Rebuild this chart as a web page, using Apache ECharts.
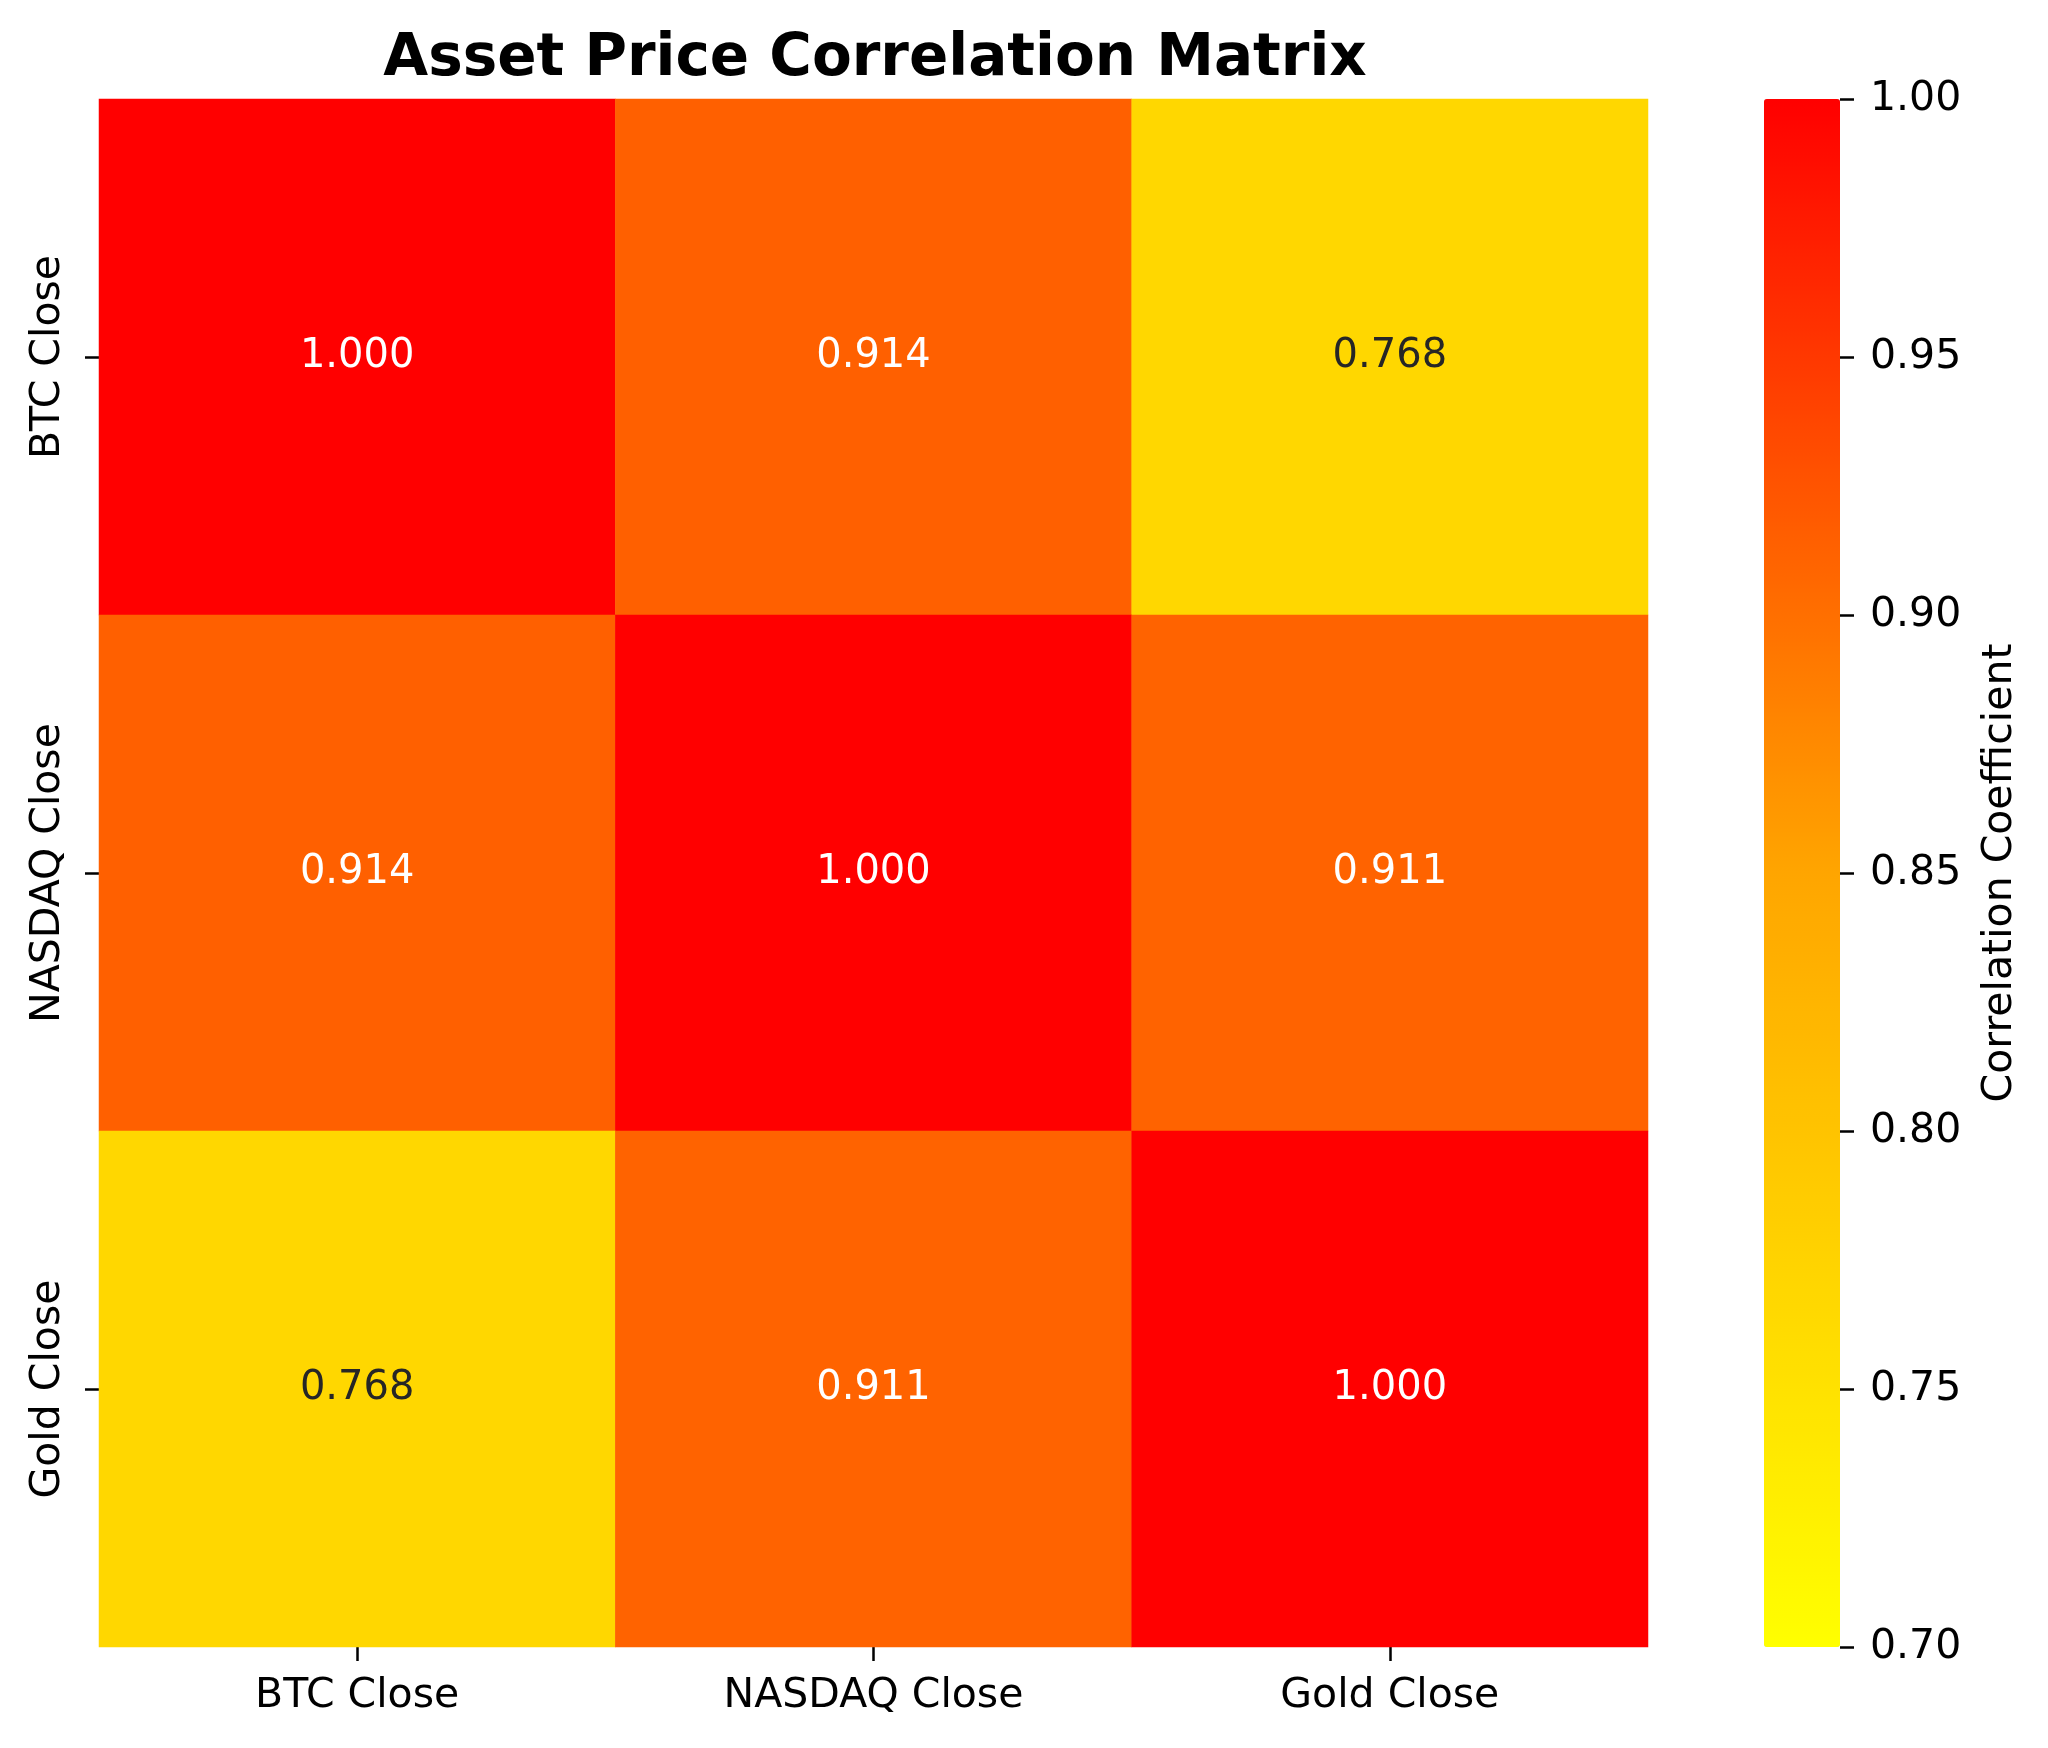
<!DOCTYPE html>
<html>
<head>
<meta charset="utf-8">
<script src="https://cdn.jsdelivr.net/npm/echarts@6/dist/echarts.min.js"></script>
<style>
  html, body { margin: 0; padding: 0; background: #fff; }
  #chart { width: 2048px; height: 1748px; }
</style>
</head>
<body>
<div id="chart"></div>
<script>
// categories / values
const assets = ['BTC Close', 'NASDAQ Close', 'Gold Close'];
const corrRows = [
  [1.000, 0.914, 0.768],
  [0.914, 1.000, 0.911],
  [0.768, 0.911, 1.000]
];
// colour scale
const colorStops = ['#ffff00', '#ffd300', '#ffa500', '#ff5400', '#ff0000'];
const scaleMin = 0.7;
const scaleMax = 1.0;
const scaleStep = 0.05;

const FONT = 'DejaVu Sans';

// build heatmap cells [x, y, v]
const cells = [];
corrRows.forEach((row, yi) => {
  row.forEach((v, xi) => {
    cells.push({
      value: [xi, yi, v],
      label: { color: v > 0.85 ? '#ffffff' : '#262626' }
    });
  });
});

const tickStyle = { color: '#000', width: 2.5 };

const chart = echarts.init(document.getElementById('chart'));
chart.setOption({
  animation: false,
  backgroundColor: '#fff',
  textStyle: { fontFamily: FONT },
  title: {
    text: 'Asset Price Correlation Matrix',
    left: 870,
    top: 26,
    textAlign: 'center',
    textStyle: { fontSize: 58, fontWeight: 'bold', color: '#000', fontFamily: FONT }
  },
  grid: [
    { left: 99, top: 99, width: 1549, height: 1548, containLabel: false, outerBoundsMode: 'none' },
    { left: 1764, top: 99, width: 76, height: 1548, containLabel: false, outerBoundsMode: 'none' }
  ],
  xAxis: [
    {
      gridIndex: 0,
      type: 'category',
      data: assets,
      axisLine: { show: false },
      axisTick: { show: true, alignWithLabel: true, length: 14, lineStyle: tickStyle },
      axisLabel: { fontSize: 41, color: '#000', margin: 29, fontFamily: FONT },
      splitArea: { show: false },
      splitLine: { show: false }
    },
    {
      gridIndex: 1,
      type: 'category',
      data: [''],
      show: false
    }
  ],
  yAxis: [
    {
      gridIndex: 0,
      type: 'category',
      data: assets,
      inverse: true,
      axisLine: { show: false },
      axisTick: { show: true, alignWithLabel: true, length: 14, lineStyle: tickStyle },
      axisLabel: { fontSize: 41, color: '#000', margin: 30, rotate: 90, fontFamily: FONT },
      splitArea: { show: false },
      splitLine: { show: false }
    },
    {
      gridIndex: 1,
      type: 'value',
      position: 'right',
      min: scaleMin,
      max: scaleMax,
      interval: scaleStep,
      axisLine: { show: false },
      splitLine: { show: false },
      axisTick: { show: true, length: 14, lineStyle: tickStyle },
      axisLabel: {
        fontSize: 41, color: '#000', margin: 30, fontFamily: FONT,
        formatter: v => v.toFixed(2)
      },
      name: 'Correlation Coefficient',
      nameLocation: 'middle',
      nameRotate: 90,
      nameGap: 140,
      nameTextStyle: { fontSize: 41, color: '#000', fontFamily: FONT }
    }
  ],
  visualMap: {
    type: 'continuous',
    seriesIndex: 0,
    min: scaleMin,
    max: scaleMax,
    calculable: false,
    orient: 'vertical',
    left: 1764,
    top: 99,
    padding: 0,
    itemWidth: 76,
    itemHeight: 1548,
    inRange: { color: colorStops },
    textStyle: { color: 'transparent' }
  },
  series: [
    {
      type: 'heatmap',
      xAxisIndex: 0,
      yAxisIndex: 0,
      data: cells,
      label: {
        show: true,
        fontSize: 40,
        fontFamily: FONT,
        formatter: p => p.value[2].toFixed(3)
      },
      itemStyle: { borderWidth: 0 },
      emphasis: { disabled: true }
    }
  ]
});
</script>
</body>
</html>
